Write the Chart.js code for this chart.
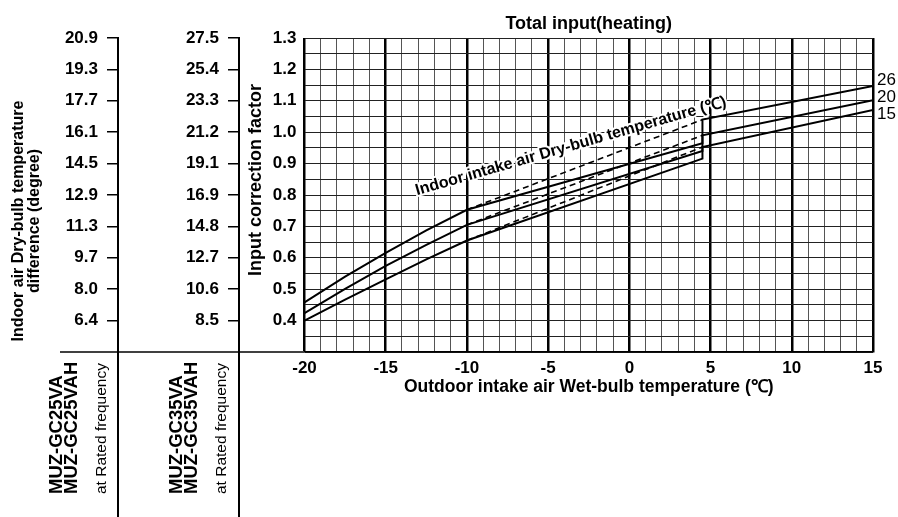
<!DOCTYPE html>
<html>
<head>
<meta charset="utf-8">
<title>Total input(heating)</title>
<script src="https://cdn.jsdelivr.net/npm/chart.js@4.4.1/dist/chart.umd.min.js"></script>
<style>
html,body{margin:0;padding:0;background:#fff;}
#wrap{width:898px;height:517px;}
</style>
</head>
<body>
<div id="wrap"><canvas id="chart" width="898" height="517"></canvas></div>
<script>
// ========== Data ==========
// outdoor wet-bulb temperature (C) for the solid curves; the step at 4.5 is the defrost jump
const tempSolid=[-20,-17.5,-15,-12.5,-10,4.5,4.5,15];
const solid26=[0.458,0.540,0.616,0.687,0.753,0.965,1.040,1.147];
const solid20=[0.424,0.501,0.574,0.641,0.705,0.940,0.990,1.102];
const solid15=[0.400,0.467,0.531,0.595,0.655,0.916,0.953,1.071];
// dashed curves (no defrost) between -10 and 4.5
const tempDashed=[-10,4.5];
const dashed26=[0.753,1.040];
const dashed20=[0.705,0.990];
const dashed15=[0.655,0.953];
const curveNames=['26','20','15'];

const xTickValues=[-20,-15,-10,-5,0,5,10,15];
const xTickLabels=['-20','-15','-10','-5','0','5','10','15'];
const factorTicks=[0.4,0.5,0.6,0.7,0.8,0.9,1.0,1.1,1.2,1.3];
const factorLabels=['0.4','0.5','0.6','0.7','0.8','0.9','1.0','1.1','1.2','1.3'];
const diffLabels25=['6.4','8.0','9.7','11.3','12.9','14.5','16.1','17.7','19.3','20.9'];
const diffLabels35=['8.5','10.6','12.7','14.8','16.9','19.1','21.2','23.3','25.4','27.5'];

// ========== Helpers ==========
const FONT="'Liberation Sans', Arial, Helvetica, sans-serif";
Chart.defaults.font.family=FONT;
Chart.defaults.color='#000';

function pts(xs,ys){return xs.map((x,i)=>({x:x,y:ys[i]}));}
function labelFor(list,labels,v){
    const i=list.findIndex(t=>Math.abs(t-v)<1e-6);
    return i<0?'':labels[i];
}
function vText(ctx,text,x,y,font,align){
    ctx.save();
    ctx.translate(x,y);
    ctx.rotate(-Math.PI/2);
    ctx.font=font; ctx.textAlign=align; ctx.textBaseline='middle'; ctx.fillStyle='#000';
    ctx.fillText(text,0,0);
    ctx.restore();
}

// ========== Decorations ==========
const panelDecor={
    id:'panelDecor',
    afterDatasetsDraw(chart){
        const {ctx,scales}=chart;
        const x=scales.x,y=scales.y;
        // curve names at the right end
        const offs=[-6,-3,4];
        ctx.save();
        ctx.font='17px '+FONT; ctx.fillStyle='#000'; ctx.textAlign='left'; ctx.textBaseline='middle';
        [solid26,solid20,solid15].forEach((s,i)=>{
            ctx.fillText(curveNames[i],x.right+4,y.getPixelForValue(s[s.length-1])+offs[i]);
        });
        // slanted label across the curves
        ctx.translate(x.getPixelForValue(-3.6),y.getPixelForValue(0.955));
        ctx.rotate(-16.1*Math.PI/180);
        ctx.font='bold 16px '+FONT; ctx.textAlign='center';
        const t='Indoor intake air Dry-bulb temperature (\u2103)';
        ctx.strokeStyle='#fff'; ctx.lineWidth=4; ctx.lineJoin='round';
        ctx.strokeText(t,0,0);
        ctx.fillText(t,0,0);
        ctx.restore();
    },
    afterDraw(chart){
        const {ctx,chartArea,scales}=chart;
        const H=chart.height;
        const a=scales.yA.right,b=scales.yB.right;
        ctx.save();
        ctx.strokeStyle='#000';
        ctx.lineWidth=1.5;
        ctx.beginPath(); ctx.moveTo(60,chartArea.bottom); ctx.lineTo(chartArea.left,chartArea.bottom); ctx.stroke();
        ctx.lineWidth=2;
        [a,b].forEach(px=>{ctx.beginPath(); ctx.moveTo(px,chartArea.bottom); ctx.lineTo(px,H); ctx.stroke();});
        ctx.restore();
        // left axis title
        vText(ctx,'Indoor air Dry-bulb temperature',19,221,'bold 16px '+FONT,'center');
        vText(ctx,'difference (degree)',35,221,'bold 16px '+FONT,'center');
        // model labels
        const base=494;
        vText(ctx,'MUZ-GC25VA',a-61,base,'bold 18.5px '+FONT,'left');
        vText(ctx,'MUZ-GC25VAH',a-46,base,'bold 18.5px '+FONT,'left');
        vText(ctx,'at Rated frequency',a-16,base,'15.5px '+FONT,'left');
        vText(ctx,'MUZ-GC35VA',b-62,base,'bold 18.5px '+FONT,'left');
        vText(ctx,'MUZ-GC35VAH',b-47,base,'bold 18.5px '+FONT,'left');
        vText(ctx,'at Rated frequency',b-17,base,'15.5px '+FONT,'left');
    }
};

// ========== Datasets ==========
function solidSet(ys){
    return {data:pts(tempSolid,ys),borderColor:'#000',borderWidth:2,pointRadius:0,fill:false,tension:0,xAxisID:'x',yAxisID:'y'};
}
function dashedSet(ys){
    return {data:pts(tempDashed,ys),borderColor:'#000',borderWidth:1.6,borderDash:[6,4],pointRadius:0,fill:false,tension:0,xAxisID:'x',yAxisID:'y'};
}

function sideAxis(labels,w,weight){
    return {
        type:'linear',axis:'y',position:'left',weight:weight,min:0.3,max:1.3,
        afterBuildTicks:s=>{s.ticks=factorTicks.map(v=>({value:v}));},
        afterFit:s=>{s.width=w;},
        ticks:{callback:(v,i)=>labels[i],font:{size:17,weight:'bold'},padding:9,autoSkip:false},
        grid:{drawOnChartArea:false,drawTicks:true,tickLength:11,color:'#000',lineWidth:1.5},
        border:{display:true,color:'#000',width:2}
    };
}

new Chart(document.getElementById('chart'),{
    type:'line',
    data:{datasets:[solidSet(solid26),solidSet(solid20),solidSet(solid15),dashedSet(dashed26),dashedSet(dashed20),dashedSet(dashed15)]},
    plugins:[panelDecor],
    options:{
        responsive:false,animation:false,devicePixelRatio:1,
        layout:{padding:{left:0,right:25,top:0,bottom:117}},
        plugins:{legend:{display:false},tooltip:{enabled:false},title:{display:false}},
        scales:{
            x:{
                type:'linear',position:'bottom',min:-20,max:15,
                afterFit:s=>{s.height=48;},
                ticks:{stepSize:1,autoSkip:false,maxRotation:0,padding:6,font:{size:17,weight:'bold'},
                    callback:v=>labelFor(xTickValues,xTickLabels,v)},
                grid:{drawTicks:false,
                    color:c=>(c.tick&&Math.round(c.tick.value)%5===0)?'#000':'#555',
                    lineWidth:c=>(c.tick&&Math.round(c.tick.value)%5===0)?2.5:1},
                border:{display:true,color:'#000',width:1.5},
                title:{display:true,text:'Outdoor intake air Wet-bulb temperature (\u2103)',font:{size:17.5,weight:'bold'},padding:{top:0,bottom:2}}
            },
            xTop:{
                type:'linear',axis:'x',position:'top',
                afterFit:s=>{s.height=38;},
                ticks:{display:false},
                grid:{display:false},
                border:{display:false},
                title:{display:true,text:'Total input(heating)',font:{size:18,weight:'bold'},padding:{top:13,bottom:0}}
            },
            y:{
                type:'linear',position:'left',weight:0,min:0.3,max:1.3,
                afterFit:s=>{s.width=65.5;},
                ticks:{stepSize:0.05,autoSkip:false,padding:8,font:{size:17,weight:'bold'},
                    callback:v=>labelFor(factorTicks,factorLabels,v)},
                grid:{drawTicks:false,color:'#222',lineWidth:1},
                border:{display:false},
                title:{display:true,text:'      Input correction factor',font:{size:18,weight:'bold'},padding:{top:6,bottom:0}}
            },
            yB:sideAxis(diffLabels35,121,1),
            yA:sideAxis(diffLabels25,118,2)
        }
    }
});
</script>
</body>
</html>
